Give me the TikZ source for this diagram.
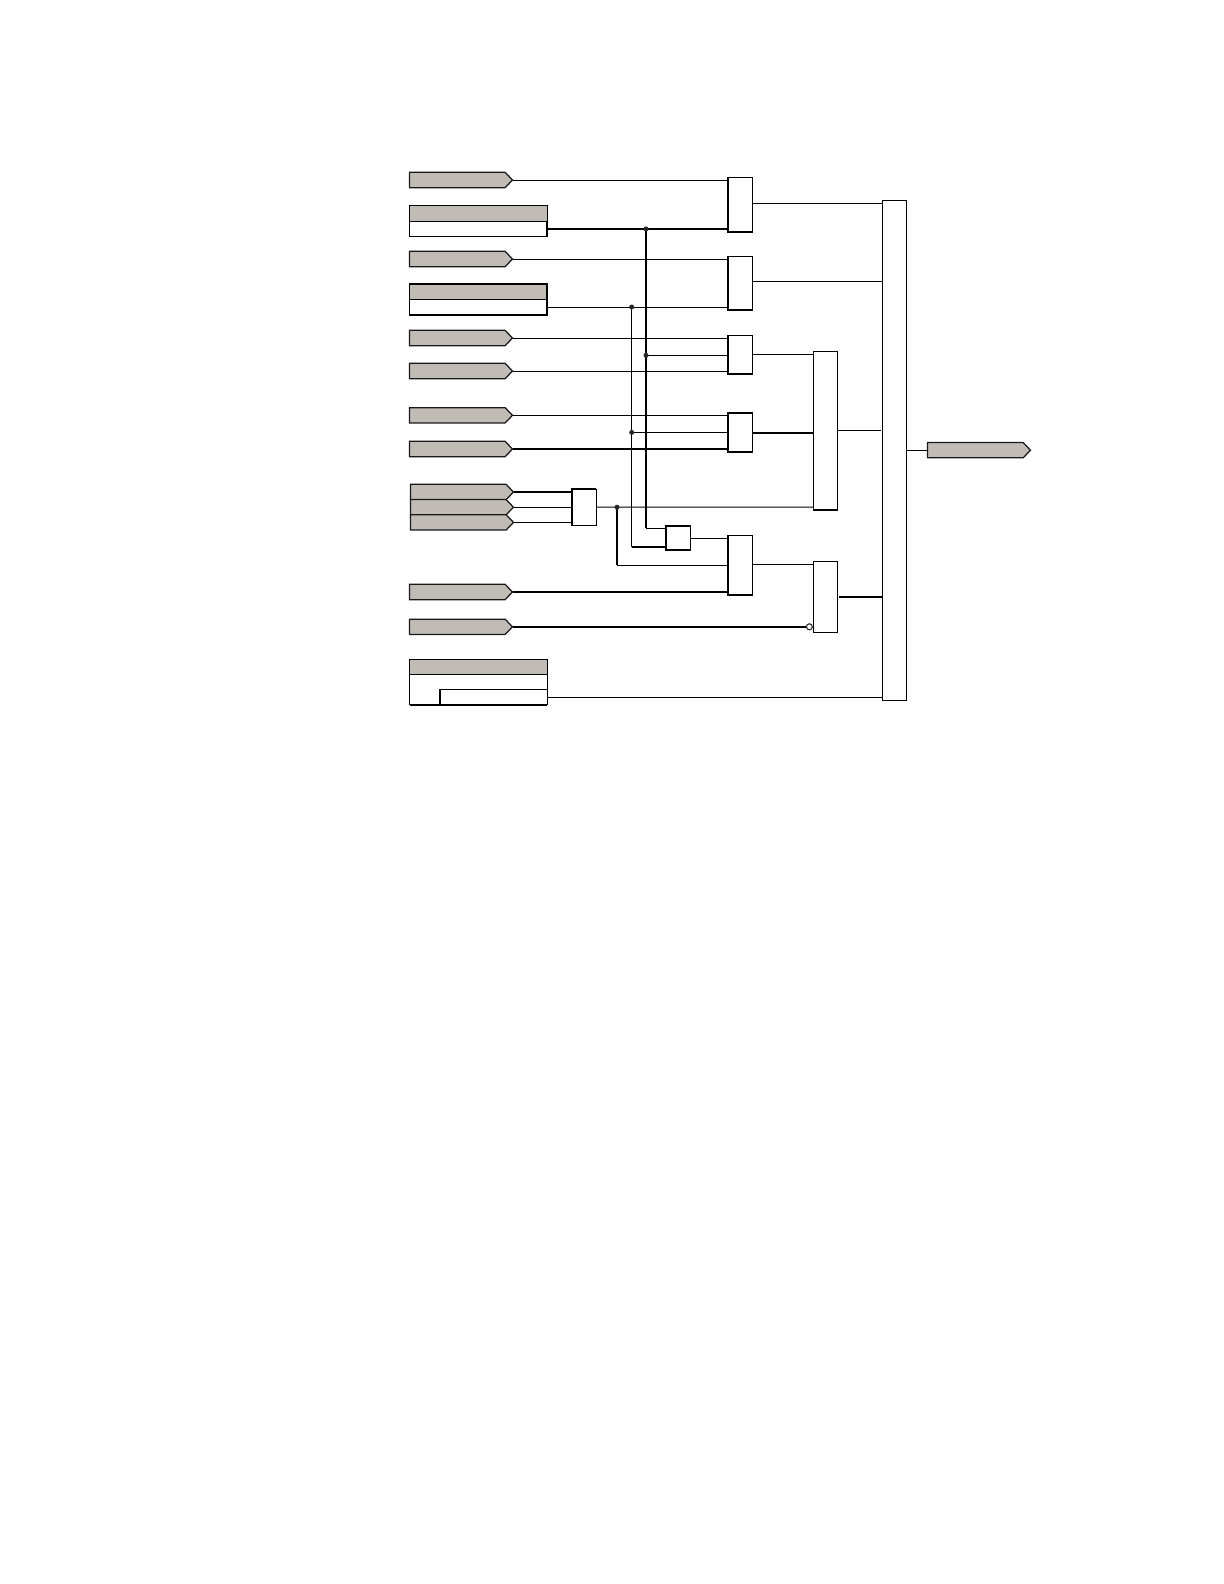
\documentclass[tikz,border=0pt]{standalone}
\usetikzlibrary{shapes.symbols}
\definecolor{taggrey}{HTML}{C0BBB5}
\tikzset{
  x=0.6pt,y=-0.6pt,
  wire/.style={line width=0.6pt,line cap=butt},
  heavy/.style={line width=1.05pt,line cap=butt,line join=miter},
  heavywire/.style={line width=1.05pt,line cap=butt},
  tagshape/.style={signal,signal to=east,signal pointer angle=92,draw=black!90,line width=0.75pt,fill=taggrey,
    inner sep=0pt,outer sep=0pt,minimum width=61.8pt,minimum height=9.2pt,anchor=west},
  block/.style={rectangle,draw=black,line width=0.6pt,fill=white,inner sep=0pt,outer sep=0pt,anchor=north west},
  greycell/.style={block,fill=taggrey},
  dot/.style={circle,fill=black!85,inner sep=0pt,minimum size=3pt},
  notdot/.style={circle,draw=black!80,fill=white,line width=0.7pt,inner sep=0pt,minimum size=3.6pt}
}
% name, x1, y1, x2, y2, style
\newcommand{\pxbox}[6]{\node[#6,minimum width={(#4-#2)*0.6pt},minimum height={(#5-#3)*0.6pt}] (#1) at (#2,#3) {};}
\newcommand{\sigtag}[3]{\node[tagshape] (#1) at (#2,#3) {};}
\begin{document}
\begin{tikzpicture}
\useasboundingbox (0,0) rectangle (1224,1584);
% input tags
\sigtag{t1}{409.5}{180.0}
\sigtag{t3}{409.5}{259.0}
\sigtag{t5}{409.5}{338.0}
\sigtag{t6}{409.5}{371.0}
\sigtag{t7}{409.5}{415.3}
\sigtag{t8}{409.5}{449.0}
\sigtag{t9a}{410.5}{492.0}
\sigtag{t9b}{410.5}{507.2}
\sigtag{t9c}{410.5}{522.4}
\sigtag{t10}{409.5}{592.0}
\sigtag{t11}{409.5}{626.8}
\sigtag{tout}{927.5}{450.2}
% setting tables
\pxbox{s1h}{409.5}{205.5}{547}{221.3}{greycell}
\pxbox{s1v}{409.5}{221.3}{547}{236.3}{block}
\pxbox{s2h}{409.5}{284}{547}{299.3}{greycell}
\pxbox{s2v}{409.5}{299.3}{547}{315}{block}
\pxbox{s3h}{409.5}{659.5}{547}{674.3}{greycell}
\pxbox{s3v}{409.5}{674.3}{547}{704.7}{block}
\pxbox{s3i}{440}{689.3}{547}{704.7}{block}
% gates
\pxbox{g1}{728}{177.3}{752.7}{231.7}{block}
\pxbox{g2}{728}{256.3}{752.7}{310}{block}
\pxbox{g3}{728}{335.3}{752.7}{374}{block}
\pxbox{g4}{728}{412.7}{752.7}{452}{block}
\pxbox{g5}{728}{535.3}{752.7}{595}{block}
\pxbox{ga}{571.7}{489}{596.3}{525.3}{block}
\pxbox{gb}{665.7}{525.7}{690.3}{550.3}{block}
\pxbox{or1}{813.3}{351.3}{837.7}{510}{block}
\pxbox{or2}{813.3}{561.3}{837.7}{632.3}{block}
\pxbox{or3}{882.3}{200.3}{906.3}{700.3}{block}
% heavier edges
\draw[heavy] (g1.north west) -- (g1.south west) -- (g1.south east);
\draw[heavy] (g2.north west) -- (g2.south west) -- (g2.south east);
\draw[heavy] (g3.north west) -- (g3.south west) -- (g3.south east);
\draw[heavy] (g4.south east) -- (g4.south west) -- (g4.north west) -- (g4.north east);
\draw[heavy] (g5.north west) -- (g5.south west) -- (g5.south east);
\draw[heavy] (ga.south west) -- (ga.north west) -- (ga.north east);
\draw[heavy] (gb.south east) -- (gb.south west) -- (gb.north west) -- (gb.north east);
\draw[heavy] (or1.south west) -- (or1.south east);
\draw[heavy] (s2h.south west) -- (s2h.north west) -- (s2h.north east) -- (s2h.south east);
\draw[heavy] (s2v.north west) -- (s2v.south west) -- (s2v.south east) -- (s2v.north east);
\draw[heavy] (s1v.north east) -- (s1v.south east);
\draw[heavy] (s3v.south west) -- (s3i.south west) -- (s3i.north west);
\draw[heavy] (s3i.south west) -- (s3i.south east);
% junctions and ports
\coordinate (j1) at (646,228.9);
\coordinate (j2) at (631.7,307);
\coordinate (j3) at (646,355.3);
\coordinate (j4) at (631.7,432.4);
\coordinate (j5) at (617,507.2);
\coordinate (gb1) at (665.7,528.4);
\coordinate (gb2) at (665.7,546.7);
\coordinate (g5a) at (728,538);
\coordinate (g5b) at (728,565.3);
\coordinate (g1o) at (752.7,203.3);
\coordinate (g2o) at (752.7,281.7);
\coordinate (g3o) at (752.7,354.3);
\coordinate (g4o) at (752.7,432.9);
\coordinate (g5o) at (752.7,564.3);
\coordinate (or1o) at (837.7,430.3);
\coordinate (or2o) at (837.7,597);
\coordinate (or3i) at (882.3,430.3);
\node[notdot] (inv) at (809.4,626.8) {};
% wires into the first gates
\draw[wire] (t1.east) -- (t1.east -| g1.west);
\draw[heavywire] (s1v.east) -- (s1v.east -| g1.west);
\draw[wire] (t3.east) -- (t3.east -| g2.west);
\draw[wire] (s2v.east) -- (s2v.east -| g2.west);
\draw[wire] (t5.east) -- (t5.east -| g3.west);
\draw[wire] (j3) -- (j3 -| g3.west);
\draw[wire] (t6.east) -- (t6.east -| g3.west);
\draw[wire] (t7.east) -- (t7.east -| g4.west);
\draw[wire] (j4) -- (j4 -| g4.west);
\draw[heavywire] (t8.east) -- (t8.east -| g4.west);
\draw[heavywire] (t9a.east) -- (t9a.east -| ga.west);
\draw[wire] (t9b.east) -- (t9b.east -| ga.west);
\draw[wire] (t9c.east) -- (t9c.east -| ga.west);
\draw[wire] (ga.east) -- (j5) -- (j5 -| or1.west);
\draw[heavywire] (t10.east) -- (t10.east -| g5.west);
\draw[heavywire] (t11.east) -- (inv.west);
\draw[wire] (s3i.east) -- (s3i.east -| or3.west);
% vertical buses
\draw[heavywire] (j1) -- (j1 |- gb1);
\draw[wire] (j1 |- gb1) -- (gb1);
\draw[wire] (j2) -- (j2 |- gb2);
\draw[heavywire] (j2 |- gb2) -- (gb2);
\draw[heavywire] (j5) -- (j5 |- g5b);
\draw[wire] (j5 |- g5b) -- (g5b);
\draw[wire] (gb.east |- g5a) -- (g5a);
% gate outputs
\draw[wire] (g1o) -- (g1o -| or3.west);
\draw[wire] (g2o) -- (g2o -| or3.west);
\draw[wire] (g3o) -- (g3o -| or1.west);
\draw[heavywire] (g4o) -- (g4o -| or1.west);
\draw[wire] (g5o) -- (g5o -| or2.west);
\draw[wire,shorten >=0.8pt] (or1o) -- (or3i);
\draw[heavywire,shorten <=0.9pt] (or2o) -- (or2o -| or3.west);
\draw[wire] (or3.east |- tout.west) -- (tout.west);
% junction dots on top of the wires
\node[dot] (d1) at (j1) {};
\node[dot] (d2) at (j2) {};
\node[dot] (d3) at (j3) {};
\node[dot] (d4) at (j4) {};
\node[dot] (d5) at (j5) {};
\end{tikzpicture}
\end{document}
